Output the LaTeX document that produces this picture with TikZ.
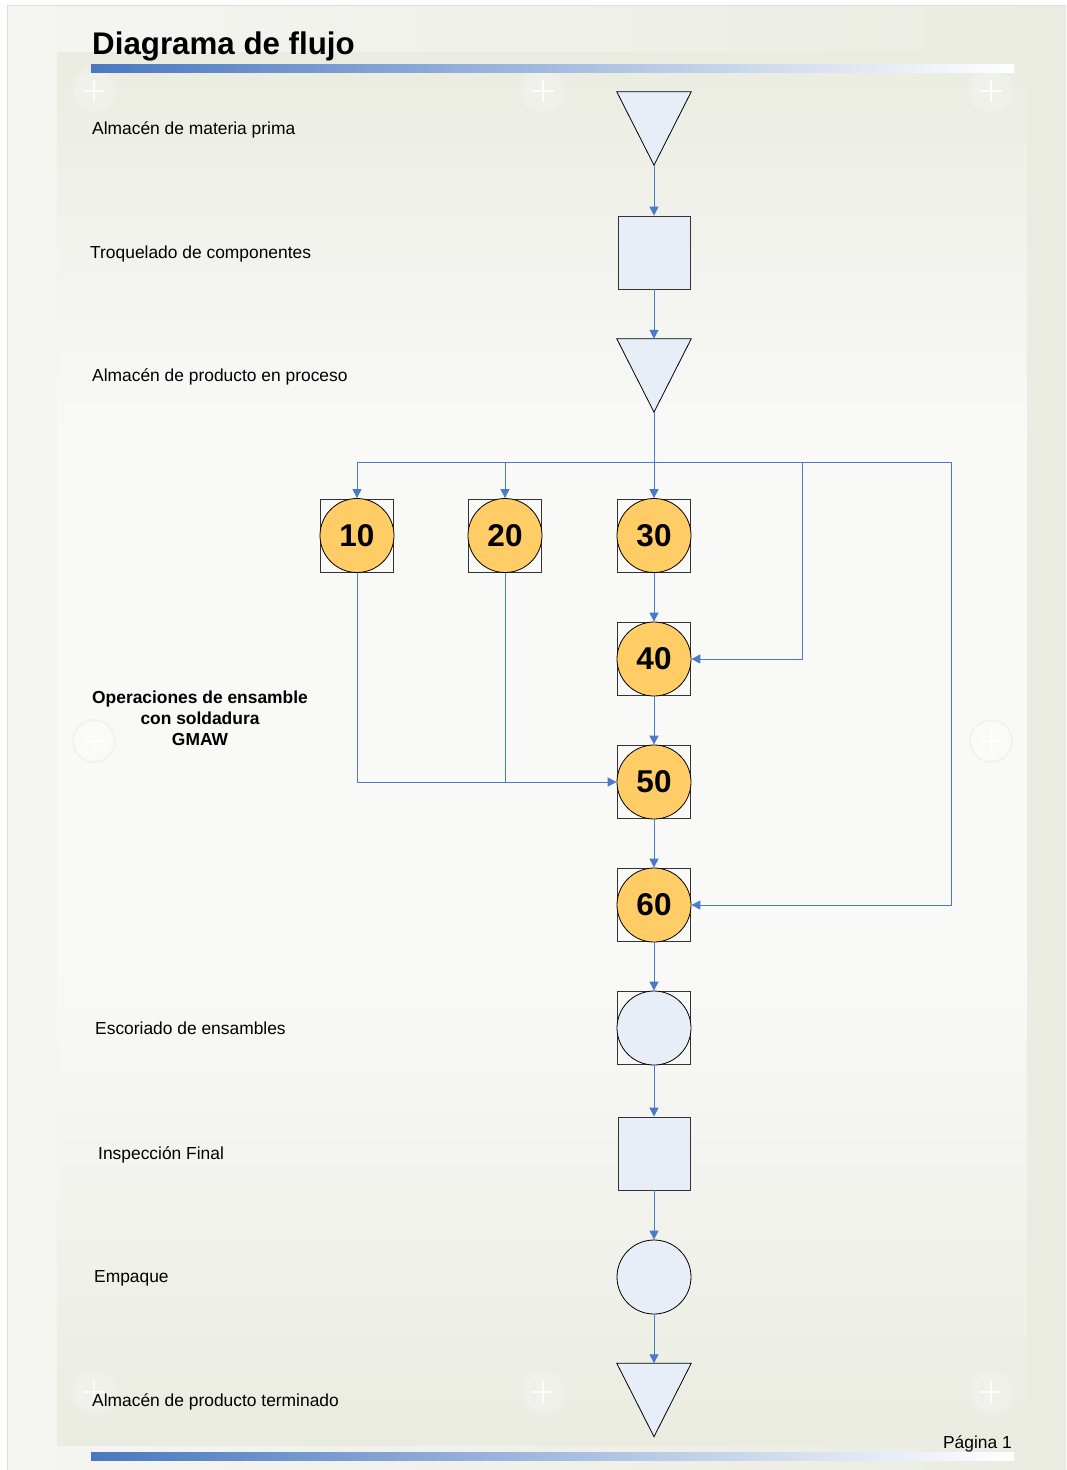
\documentclass[tikz,border=0pt]{standalone}
\usepackage{fontspec}
\setmainfont{Liberation Sans}
\usetikzlibrary{arrows.meta,calc}
\definecolor{flowblue}{HTML}{4A7BC8}
\definecolor{opfill}{HTML}{FFCC66}
\definecolor{lightfill}{HTML}{E8EEF8}
\definecolor{bggreen}{HTML}{EAECE1}
\definecolor{bgmid}{HTML}{F9F9F8}
\definecolor{bgleft}{HTML}{F5F5F2}
\definecolor{barblue}{HTML}{4A78C0}
\definecolor{framegray}{HTML}{DEDEDC}
\tikzset{
  link/.style={draw=flowblue, line width=1pt},
  arr/.style={link, -{Triangle[length=9pt,width=9pt]}},
  holder/.style={rectangle, inner sep=0pt, minimum width=74pt, minimum height=73pt},
  boxsq/.style={rectangle, draw=black!80, line width=0.8pt, minimum width=73pt, minimum height=73pt, inner sep=0pt},
  lightsq/.style={boxsq, fill=lightfill},
  opcirc/.style={circle, draw=black, line width=0.8pt, fill=opfill, minimum size=74pt, inner sep=0pt, font=\fontsize{31.5}{31.5}\selectfont\bfseries},
  lightcirc/.style={circle, draw=black, line width=0.8pt, fill=lightfill, minimum size=74pt, inner sep=0pt},
  tri/.style={draw=black, line width=0.8pt, fill=lightfill},
  lbl/.style={anchor=base west, inner sep=0pt, font=\fontsize{17.4}{21}\selectfont},
}
\begin{document}
\begin{tikzpicture}[x=1pt,y=-1pt]
\useasboundingbox (0,0) rectangle (1066,1470);
% background
\fill[white] (0,0) rectangle (1066,1470);
\shade[left color=bgleft, right color=bggreen] (7,5) rectangle (1066,1470);
\draw[framegray, line width=1pt] (7,1470) -- (7,5) -- (1066,5);
\shade[top color=bggreen, bottom color=bgmid] (57,52) rectangle (1027,440);
\fill[bgmid] (57,439) rectangle (1027,961);
\shade[top color=bgmid, bottom color=bggreen] (57,960) rectangle (1027,1445);
% decorative plus circles
\foreach \cx/\cy in {94/91, 543/91, 991/91, 94/741, 991/741, 94/1392, 543/1392, 991/1392}{
  \fill[white, opacity=0.25] (\cx,\cy) circle (23);
  \draw[black!8, opacity=0.5, line width=2pt] (\cx,\cy) circle (21);
  \draw[white, opacity=0.8, line width=1.5pt] (\cx-11,\cy) -- (\cx+11,\cy) (\cx,\cy-11) -- (\cx,\cy+11);
}
% title and bars
\node[anchor=base west, inner sep=0pt, font=\fontsize{31.3}{31.3}\selectfont\bfseries] (title) at (92,54) {Diagrama de flujo};
\shade[left color=barblue, right color=white] (91,64) rectangle (1014,72);
\shade[left color=barblue, right color=white] (91,1452) rectangle (1014,1460);
\node[anchor=base east, inner sep=0pt, font=\fontsize{17.4}{21}\selectfont] (page) at (1012,1448) {Página 1};

% labels
\node[lbl] (l1) at (92,134) {Almacén de materia prima};
\node[lbl] (l2) at (90,258) {Troquelado de componentes};
\node[lbl] (l3) at (92,381) {Almacén de producto en proceso};
\node[align=center, inner sep=0pt, font=\fontsize{17.4}{21}\selectfont\bfseries] (l4) at (200,718) {Operaciones de ensamble\\con soldadura\\GMAW};
\node[lbl] (l5) at (95,1034) {Escoriado de ensambles};
\node[lbl] (l6) at (98,1159) {Inspección Final};
\node[lbl] (l7) at (94,1282) {Empaque};
\node[lbl] (l8) at (92,1406) {Almacén de producto terminado};

% shapes
\node[holder] (t1) at (654,128.5) {};
\draw[tri] (t1.north west) -- (t1.north east) -- (t1.south) -- cycle;
\node[lightsq, minimum width=72pt] (s1) at (654,252.5) {};
\node[holder] (t2) at (654,375.5) {};
\draw[tri] (t2.north west) -- (t2.north east) -- (t2.south) -- cycle;

\node[boxsq] (b10) at (357,535.5) {};
\node[opcirc] (n10) at (357,535.5) {10};
\node[boxsq] (b20) at (505,535.5) {};
\node[opcirc] (n20) at (505,535.5) {20};
\node[boxsq] (b30) at (654,535.5) {};
\node[opcirc] (n30) at (654,535.5) {30};
\node[boxsq] (b40) at (654,659) {};
\node[opcirc] (n40) at (654,659) {40};
\node[boxsq] (b50) at (654,782) {};
\node[opcirc] (n50) at (654,782) {50};
\node[boxsq] (b60) at (654,905) {};
\node[opcirc] (n60) at (654,905) {60};

\node[boxsq] (bes) at (654,1028) {};
\node[lightcirc] (es) at (654,1028) {};
\node[lightsq, minimum width=72pt] (ins) at (654,1153.5) {};
\node[lightcirc] (emp) at (654,1277) {};
\node[holder] (t3) at (654,1400) {};
\draw[tri] (t3.north west) -- (t3.north east) -- (t3.south) -- cycle;

% bus coordinates
\coordinate (busL) at (357,462);
\coordinate (bus40) at (802,462);
\coordinate (busR) at (951,462);

% connectors
\draw[arr] (t1.south) -- (s1.north);
\draw[arr] (s1.south) -- (t2.north);
\draw[arr] (t2.south) -- (n30.north);
\draw[link] (busL) -- (busR);
\draw[arr] (busL) -- (n10.north);
\draw[arr] (n20.north |- busL) -- (n20.north);
\draw[arr] (bus40) |- (n40.east);
\draw[arr] (busR) |- (n60.east);
\draw[arr] (n30.south) -- (n40.north);
\draw[arr] (n40.south) -- (n50.north);
\draw[arr] (n10.south) |- (n50.west);
\draw[link] (n20.south) -- (n20.south |- n50.west);
\draw[arr] (n50.south) -- (n60.north);
\draw[arr] (n60.south) -- (es.north);
\draw[arr] (es.south) -- (ins.north);
\draw[arr] (ins.south) -- (emp.north);
\draw[arr] (emp.south) -- (t3.north);
\end{tikzpicture}
\end{document}
